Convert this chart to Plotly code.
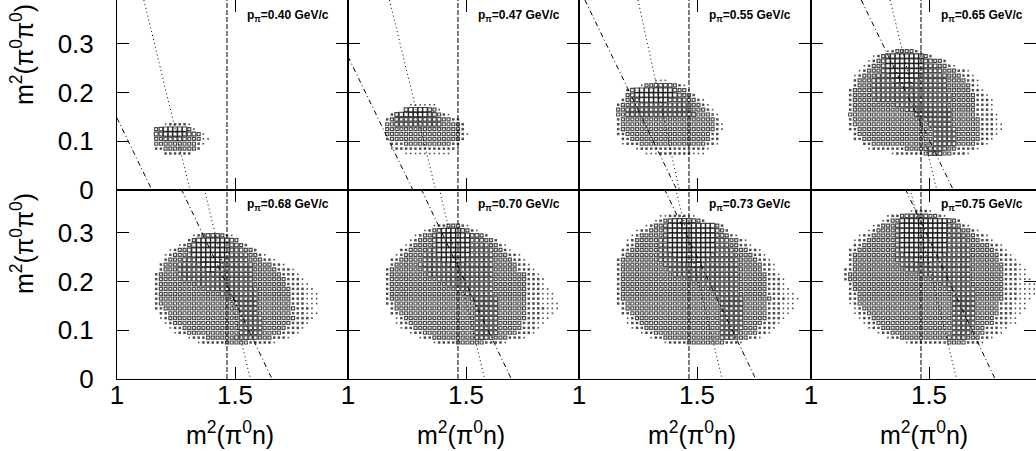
import plotly.graph_objects as go

# ---------------- data ----------------
momenta = ["0.40", "0.47", "0.55", "0.65", "0.68", "0.70", "0.73", "0.75"]

x_tick_vals = [1.0, 1.5]
x_tick_text = ["1", "1.5"]
y_tick_vals = [0.0, 0.1, 0.2, 0.3]
y_tick_text = ["0", "0.1", "0.2", "0.3"]

# histogram binning of the box plots (bin centres)
X_FIRST, X_STEP = 1.006, 0.02
Y_FIRST, Y_STEP = 0.005, 0.01

# vertical dashed reference line, m2(pi0 n)
delta_line_x = 1.466

# box-plot contents: (row index j, first column index k, box size levels 1..5)
rows_040 = [
    (13, 10, "122221"),
    (12, 8, "345555531"),
    (11, 8, "44555544431"),
    (10, 8, "334444433311"),
    (9, 8, "33333333321"),
    (8, 8, "2233333332"),
    (7, 10, "222222"),
]
rows_047 = [
    (17, 13, "111111"),
    (16, 12, "45555431"),
    (15, 9, "2455555544321"),
    (14, 8, "2344444444443322"),
    (13, 8, "33444444444433332"),
    (12, 8, "33333333333333332"),
    (11, 8, "333333333333333321"),
    (10, 8, "23333333333333332"),
    (9, 9, "222333333333322"),
    (8, 9, "122222222222221"),
    (7, 12, "1111111111"),
]
rows_055 = [
    (22, 16, "111"),
    (21, 13, "1334444321"),
    (20, 10, "24555555554331"),
    (19, 10, "345555555554332"),
    (18, 9, "234455555544443321"),
    (17, 8, "23344444444444443321"),
    (16, 8, "334444444444444433321"),
    (15, 8, "3344444444444444433321"),
    (14, 8, "2333333333333333333332"),
    (13, 8, "23333333333333333333321"),
    (12, 8, "23333333333333333333321"),
    (11, 8, "2233333333333333333322"),
    (10, 9, "223333333333333333322"),
    (9, 9, "122233333333333333221"),
    (8, 12, "1222222222222221"),
    (7, 14, "1112222222111"),
]
rows_065 = [
    (28, 16, "12333321"),
    (27, 13, "123" "55555555" "32"),
    (26, 12, "1234" "55555555" "44332"),
    (25, 11, "12334" "55555555" "4443321"),
    (24, 10, "123334" "55555555" "4444333221"),
    (23, 9, "1233344" "45555554" "44444333221"),
    (22, 9, "2333444" "44555544" "444443333221"),
    (21, 9, "2333444" "44445444" "444443333321"),
    (20, 8, "23333444" "44444444" "4444433333221"),
    (19, 8, "23333444" "44444444" "44444433333221"),
    (18, 8, "23333344" "44444444" "444444333332221"),
    (17, 8, "23333333" "33444444" "444443333332221"),
    (16, 8, "23333333" "33334444" "444444333332221"),
    (15, 8, "33333333" "33333344" "4444443333322221"),
    (14, 8, "23333333" "33333333" "4444443333332221"),
    (13, 8, "23333333" "33333333" "34444433333322211"),
    (12, 8, "22333333" "33333333" "33444443333322211"),
    (11, 9, "2333333" "33333333" "3344444333332221"),
    (10, 9, "2233333" "33333333" "334444433333221"),
    (9, 11, "22333" "33333333" "33444443333221"),
    (8, 12, "1222" "22223333" "444443322221"),
    (7, 17, "1222222" "3444332221"),
]
rows_068 = [
    (29, 16, "123444321"),
    (28, 15, "23555555543"),
    (27, 13, "123" "55555555" "4432"),
    (26, 11, "12334" "55555555" "444332"),
    (25, 10, "123334" "55555555" "44443321"),
    (24, 10, "233344" "45555554" "4444333221"),
    (23, 9, "2333444" "44555544" "444443333221"),
    (22, 9, "2333444" "44455444" "44444333332221"),
    (21, 8, "23333444" "44444444" "444443333332221"),
    (20, 8, "23333344" "44444444" "4444433333332221"),
    (19, 8, "23333333" "34444444" "44444333333322211"),
    (18, 8, "23333333" "33344444" "444444333333322211"),
    (17, 8, "23333333" "33333344" "4444443333333222111"),
    (16, 8, "23333333" "33333333" "4444443333333222111"),
    (15, 8, "23333333" "33333333" "3444443333333222111"),
    (14, 8, "22333333" "33333333" "334444333333332221"),
    (13, 9, "2233333" "33333333" "3344443333333222111"),
    (12, 9, "1233333" "33333333" "334444433333332221"),
    (11, 10, "123333" "33333333" "33444443333332221"),
    (10, 11, "12233" "33333333" "3344444333332221"),
    (9, 12, "1223" "33333333" "334444433332221"),
    (8, 15, "1" "22233333" "3444443332221"),
    (7, 17, "1222223" "3333222221"),
]
rows_070 = [
    (31, 18, "12233321"),
    (30, 16, "123455554321"),
    (29, 14, "12334" "5555555" "4432"),
    (28, 13, "123334" "5555555" "444332"),
    (27, 12, "1233334" "5555555" "44443321"),
    (26, 11, "22333344" "5555555" "444443321"),
    (25, 10, "123333444" "5555555" "44444333221"),
    (24, 9, "2233333444" "4555554" "444443333221"),
    (23, 9, "2333334444" "4445444" "4444433333221"),
    (22, 8, "23333333444" "4444444" "44444333332221"),
    (21, 8, "23333333344" "4444444" "444443333333221"),
    (20, 8, "23333333333" "4444444" "4444433333332221"),
    (19, 8, "23333333333" "3344444" "4444433333332221"),
    (18, 8, "23333333333" "3333444" "44444333333322211"),
    (17, 8, "23333333333" "3333334" "444443333333222111"),
    (16, 8, "23333333333" "3333333" "444444333333222111"),
    (15, 8, "22333333333" "3333333" "3444443333332221111"),
    (14, 9, "2333333333" "3333333" "3444443333332222111"),
    (13, 9, "2233333333" "3333333" "344444333333222111"),
    (12, 10, "123333333" "3333333" "34444433333322211"),
    (11, 10, "122333333" "3333333" "3444443333322211"),
    (10, 11, "12233333" "3333333" "344444333332221"),
    (9, 13, "122333" "3333333" "34444433332221"),
    (8, 15, "1223" "3333333" "344443332221"),
    (7, 18, "1" "2222333" "33322221"),
]
rows_073 = [
    (33, 17, "11222211"),
    (32, 16, "12345555432"),
    (31, 14, "12334" "5555555555" "32"),
    (30, 12, "1223334" "5555555555" "432"),
    (29, 11, "12333334" "5555555555" "44321"),
    (28, 10, "123333344" "5555555555" "4443321"),
    (27, 10, "223333344" "5555555555" "44433221"),
    (26, 9, "2233333344" "5555555555" "4444333221"),
    (25, 9, "2333333344" "4555555554" "44443333221"),
    (24, 8, "23333333344" "4455555544" "444443333221"),
    (23, 8, "23333333334" "4444555444" "4444433333221"),
    (22, 8, "23333333333" "4444444444" "4444433333221"),
    (21, 8, "23333333333" "3444444444" "44444333333221"),
    (20, 8, "23333333333" "3333444444" "444443333332221"),
    (19, 8, "23333333333" "3333333444" "444443333332221"),
    (18, 8, "23333333333" "3333333334" "4444433333322211"),
    (17, 8, "23333333333" "3333333333" "44444333333222111"),
    (16, 8, "23333333333" "3333333333" "344444333333222111"),
    (15, 8, "22333333333" "3333333333" "34444433333222111"),
    (14, 9, "2333333333" "3333333333" "34444433333222111"),
    (13, 9, "2233333333" "3333333333" "3444443333322211"),
    (12, 10, "123333333" "3333333333" "344444333332221"),
    (11, 10, "122333333" "3333333333" "34444433332221"),
    (10, 11, "12233333" "3333333333" "3444443332221"),
    (9, 13, "122333" "3333333333" "344443333221"),
    (8, 15, "1223" "3333333333" "3444333221"),
    (7, 18, "1" "2222333333" "332221"),
]
rows_075 = [
    (34, 21, "12221"),
    (33, 16, "1223444443321"),
    (32, 15, "1233" "5555555555" "432"),
    (31, 13, "123334" "5555555555" "44321"),
    (30, 12, "1233334" "5555555555" "4443321"),
    (29, 10, "122333334" "5555555555" "444433221"),
    (28, 9, "1223333334" "5555555555" "4444333221"),
    (27, 9, "2233333334" "5555555555" "444443333221"),
    (26, 8, "22333333334" "5555555555" "4444433333221"),
    (25, 8, "23333333334" "4555555554" "44444333333221"),
    (24, 8, "23333333334" "4445555444" "444443333332221"),
    (23, 8, "23333333333" "4444444444" "4444433333332221"),
    (22, 7, "223333333333" "3444444444" "44444333333322211"),
    (21, 7, "233333333333" "3333444444" "44444333333322211"),
    (20, 7, "233333333333" "3333333444" "444443333333222111"),
    (19, 8, "23333333333" "3333333334" "4444433333332221111"),
    (18, 8, "23333333333" "3333333333" "4444443333332221111"),
    (17, 8, "22333333333" "3333333333" "3444443333332221111"),
    (16, 8, "22333333333" "3333333333" "344444333333222111"),
    (15, 8, "12333333333" "3333333333" "34444433333222111"),
    (14, 9, "1233333333" "3333333333" "34444433333222111"),
    (13, 9, "1223333333" "3333333333" "3444443333322211"),
    (12, 10, "122333333" "3333333333" "344444333322211"),
    (11, 11, "12233333" "3333333333" "344444333322211"),
    (10, 12, "1223333" "3333333333" "3444433322211"),
    (9, 14, "12233" "3333333333" "344443332221"),
    (8, 16, "122" "3333333333" "4444333221"),
    (7, 20, "12222222233332221"),
]
panel_rows = [rows_040, rows_047, rows_055, rows_065,
              rows_068, rows_070, rows_073, rows_075]

# kinematic boundary lines (data units): (x_top, y_top, x_bottom, y_bottom)
dotted_lines = [
    (1.114, 0.39, 1.309, 0.0),
    (1.176, 0.39, 1.371, 0.0),
    (1.250, 0.39, 1.425, 0.0),
    (1.335, 0.39, 1.533, 0.0),
    (1.370, 0.39, 1.565, 0.0),
    (1.387, 0.39, 1.579, 0.0),
    (1.410, 0.39, 1.607, 0.0),
    (1.420, 0.39, 1.617, 0.0),
]
dashdot_lines = [
    (1.000, 0.148, 1.148, 0.0),
    (1.000, 0.274, 1.275, 0.0),
    (1.025, 0.39, 1.415, 0.0),
    (1.213, 0.39, 1.603, 0.0),
    (1.272, 0.39, 1.657, 0.0),
    (1.310, 0.39, 1.692, 0.0),
    (1.362, 0.39, 1.749, 0.0),
    (1.400, 0.39, 1.780, 0.0),
]

# ---------------- styling / layout ----------------
W, H = 1036, 451
COL_PX = [117, 348, 579, 811, 1036]
ROW_PX = [0, 190, 379]
PX_PER_X = 236.0
PX_PER_Y = 487.0
FONT = "Liberation Sans, Arial, Helvetica, sans-serif"

LEVEL_SYMBOL = {1: "square", 2: "square", 3: "square-open", 4: "square-open", 5: "square-open"}
LEVEL_SIZE = {1: 1.6, 2: 2.5, 3: 3.0, 4: 3.6, 5: 4.3}
LEVEL_LW = {1: 0, 2: 0, 3: 1.2, 4: 1.2, 5: 1.2}

fig = go.Figure()
layout = dict(
    template="none",
    width=W, height=H, autosize=False,
    margin=dict(l=0, r=0, t=0, b=0, pad=0),
    paper_bgcolor="white", plot_bgcolor="white",
    showlegend=False, font=dict(family=FONT, color="black"),
)
annotations = []

for i in range(8):
    r, c = divmod(i, 4)
    n = i + 1
    xa = "x" if n == 1 else f"x{n}"
    ya = "y" if n == 1 else f"y{n}"
    x0p, x1p = COL_PX[c], COL_PX[c + 1]
    y0p, y1p = ROW_PX[r], ROW_PX[r + 1]
    xmax = 1.0 + (x1p - x0p) / PX_PER_X
    ymax = (y1p - y0p) / PX_PER_Y

    common = dict(showgrid=False, zeroline=False, showline=True, linecolor="black",
                  linewidth=1, mirror="ticks", ticks="inside", ticklen=12,
                  tickwidth=1, tickcolor="black", automargin=False,
                  tickfont=dict(family=FONT, size=26, color="black"))
    layout["xaxis" if n == 1 else f"xaxis{n}"] = dict(
        common, domain=[x0p / W, x1p / W], range=[1.0, xmax], anchor=ya,
        tickvals=x_tick_vals, ticktext=x_tick_text, showticklabels=(r == 1),
        ticklabelstandoff=-7)
    layout["yaxis" if n == 1 else f"yaxis{n}"] = dict(
        common, domain=[1 - y1p / H, 1 - y0p / H], range=[0.0, ymax], anchor=xa,
        tickvals=y_tick_vals, ticktext=y_tick_text, showticklabels=(c == 0),
        ticklabelstandoff=17)

    # box plot
    xs, ys, syms, sizes, lws = [], [], [], [], []
    for j, k0, levels in panel_rows[i]:
        for dk, ch in enumerate(levels):
            if ch in " 0":
                continue
            lv = int(ch)
            xs.append(X_FIRST + X_STEP * (k0 + dk))
            ys.append(Y_FIRST + Y_STEP * j)
            syms.append(LEVEL_SYMBOL[lv])
            sizes.append(LEVEL_SIZE[lv])
            lws.append(LEVEL_LW[lv])
    fig.add_trace(go.Scatter(
        x=xs, y=ys, mode="markers", xaxis=xa, yaxis=ya, hoverinfo="skip",
        marker=dict(symbol=syms, size=sizes, color="black",
                    line=dict(color="black", width=lws))))

    # kinematic lines
    xa1, ya1, xb1, yb1 = dotted_lines[i]
    fig.add_trace(go.Scatter(x=[xa1, xb1], y=[ya1, yb1], mode="lines", xaxis=xa, yaxis=ya,
                             line=dict(color="black", width=1, dash="1px,3px"), hoverinfo="skip"))
    xa2, ya2, xb2, yb2 = dashdot_lines[i]
    fig.add_trace(go.Scatter(x=[xa2, xb2], y=[ya2, yb2], mode="lines", xaxis=xa, yaxis=ya,
                             line=dict(color="black", width=1, dash="5px,3px,1px,3px"), hoverinfo="skip"))
    fig.add_trace(go.Scatter(x=[delta_line_x, delta_line_x], y=[0.0, ymax], mode="lines",
                             xaxis=xa, yaxis=ya,
                             line=dict(color="black", width=1, dash="5px,2px"), hoverinfo="skip"))

    annotations.append(dict(
        x=1.542, y=0.358, xref=xa, yref=ya, xanchor="left", yanchor="middle",
        text=f"<b>p<sub>π</sub>=" + momenta[i] + " GeV/c</b>", showarrow=False,
        font=dict(family=FONT, size=12, color="black")))

    if r == 1:
        annotations.append(dict(
            x=(x0p + 113) / W, y=1 - 433 / H, xref="paper", yref="paper",
            xanchor="center", yanchor="middle", showarrow=False,
            text="m<sup>2</sup>(π<sup>0</sup>n)",
            font=dict(family=FONT, size=25, color="black")))

for yc in (55, 244):
    annotations.append(dict(
        x=22 / W, y=1 - yc / H, xref="paper", yref="paper", xanchor="center",
        yanchor="middle", showarrow=False, textangle=-90,
        text="m<sup>2</sup>(π<sup>0</sup>π<sup>0</sup>)",
        font=dict(family=FONT, size=25, color="black")))

layout["annotations"] = annotations
fig.update_layout(**layout)
fig.write_html("out.html")
